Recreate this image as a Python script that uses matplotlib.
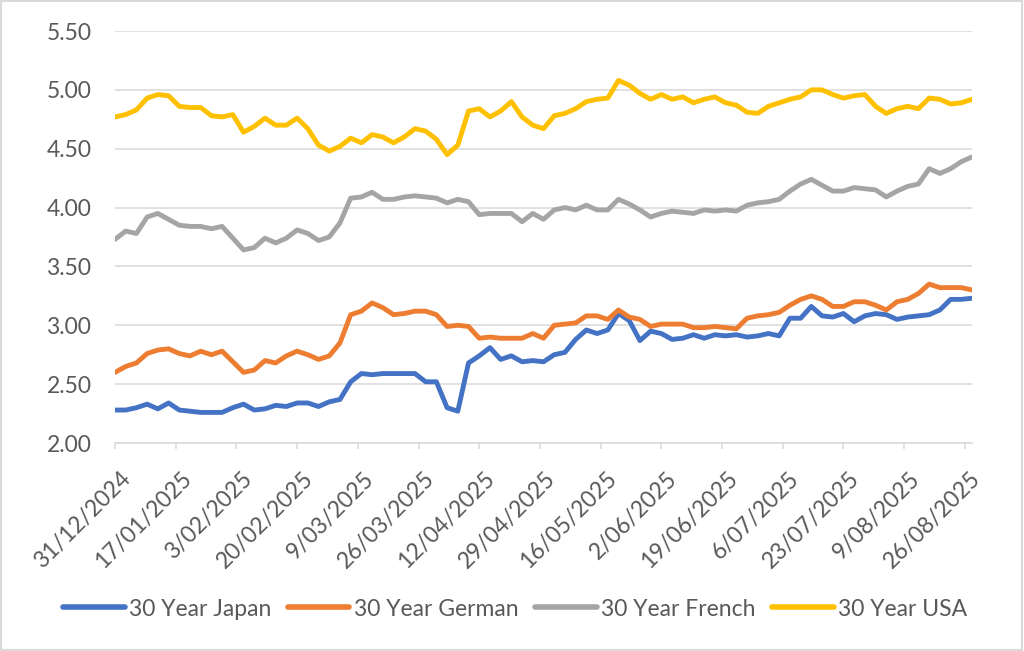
import numpy as np
import pandas as pd
import matplotlib
matplotlib.use('Agg')
import matplotlib.pyplot as plt
import matplotlib.dates as mdates
import matplotlib.transforms as mtransforms
from matplotlib.patches import Rectangle

plt.rcParams['font.family'] = ['Lato', 'DejaVu Sans']

# sampled every 3 days from 31/12/2024, last point 28/08/2025
dates = pd.date_range('2024-12-31', periods=80, freq='3D').append(pd.DatetimeIndex(['2025-08-28']))

japan = [2.28, 2.28, 2.30, 2.33, 2.29, 2.34, 2.28, 2.27, 2.26, 2.26, 2.26, 2.30, 2.33,
         2.28, 2.29, 2.32, 2.31, 2.34, 2.34, 2.31, 2.35, 2.37, 2.52, 2.59, 2.58, 2.59, 2.59,
         2.59, 2.59, 2.52, 2.52, 2.30, 2.27, 2.68, 2.74, 2.81, 2.71, 2.74, 2.69, 2.70, 2.69,
         2.75, 2.77, 2.88, 2.96, 2.93, 2.96, 3.10, 3.04, 2.87, 2.95, 2.93, 2.88, 2.89, 2.92,
         2.89, 2.92, 2.91, 2.92, 2.90, 2.91, 2.93, 2.91, 3.06, 3.06, 3.16, 3.08, 3.07, 3.10,
         3.03, 3.08, 3.10, 3.09, 3.05, 3.07, 3.08, 3.09, 3.13, 3.22, 3.22, 3.23]
german = [2.60, 2.65, 2.68, 2.76, 2.79, 2.80, 2.76, 2.74, 2.78, 2.75, 2.78, 2.69, 2.60,
          2.62, 2.70, 2.68, 2.74, 2.78, 2.75, 2.71, 2.74, 2.85, 3.09, 3.12, 3.19, 3.15, 3.09,
          3.10, 3.12, 3.12, 3.09, 2.99, 3.00, 2.99, 2.89, 2.90, 2.89, 2.89, 2.89, 2.93, 2.89,
          3.00, 3.01, 3.02, 3.08, 3.08, 3.05, 3.13, 3.07, 3.05, 2.99, 3.01, 3.01, 3.01, 2.98,
          2.98, 2.99, 2.98, 2.97, 3.06, 3.08, 3.09, 3.11, 3.17, 3.22, 3.25, 3.22, 3.16, 3.16,
          3.20, 3.20, 3.17, 3.13, 3.20, 3.22, 3.27, 3.35, 3.32, 3.32, 3.32, 3.30]
french = [3.73, 3.80, 3.78, 3.92, 3.95, 3.90, 3.85, 3.84, 3.84, 3.82, 3.84, 3.74, 3.64,
          3.66, 3.74, 3.70, 3.74, 3.81, 3.78, 3.72, 3.75, 3.87, 4.08, 4.09, 4.13, 4.07, 4.07,
          4.09, 4.10, 4.09, 4.08, 4.04, 4.07, 4.05, 3.94, 3.95, 3.95, 3.95, 3.88, 3.95, 3.90,
          3.98, 4.00, 3.98, 4.02, 3.98, 3.98, 4.07, 4.03, 3.98, 3.92, 3.95, 3.97, 3.96, 3.95,
          3.98, 3.97, 3.98, 3.97, 4.02, 4.04, 4.05, 4.07, 4.14, 4.20, 4.24, 4.19, 4.14, 4.14,
          4.17, 4.16, 4.15, 4.09, 4.14, 4.18, 4.20, 4.33, 4.29, 4.33, 4.39, 4.43]
usa = [4.77, 4.79, 4.83, 4.93, 4.96, 4.95, 4.86, 4.85, 4.85, 4.78, 4.77, 4.79, 4.64,
       4.69, 4.76, 4.70, 4.70, 4.76, 4.67, 4.53, 4.48, 4.52, 4.59, 4.55, 4.62, 4.60, 4.55,
       4.60, 4.67, 4.65, 4.58, 4.45, 4.53, 4.82, 4.84, 4.77, 4.82, 4.90, 4.77, 4.70, 4.67,
       4.78, 4.80, 4.84, 4.90, 4.92, 4.93, 5.08, 5.04, 4.97, 4.92, 4.96, 4.92, 4.94, 4.89,
       4.92, 4.94, 4.89, 4.87, 4.81, 4.80, 4.86, 4.89, 4.92, 4.94, 5.00, 5.00, 4.96, 4.93,
       4.95, 4.96, 4.86, 4.80, 4.84, 4.86, 4.84, 4.93, 4.92, 4.88, 4.89, 4.92]

labels = ['30 Year Japan', '30 Year German', '30 Year French', '30 Year USA']
colors = ['#4472C4', '#ED7D31', '#A5A5A5', '#FFC000']
x_ticks = pd.date_range('2024-12-31', '2025-08-26', freq='17D')

fig = plt.figure(figsize=(10.24, 6.51), dpi=100)
ax = fig.add_axes([115/1024, 1 - 443/651, 857/1024, 412/651])

for vals, lab, col in zip([japan, german, french, usa], labels, colors):
    ax.plot(dates, vals, color=col, lw=3.5, label=lab,
            solid_capstyle='round', solid_joinstyle='round')

ax.set_ylim(2.0, 5.5)
ax.set_yticks(np.arange(2.0, 5.51, 0.5))
ax.yaxis.set_major_formatter(plt.FormatStrFormatter('%.2f'))
ax.set_xlim(pd.Timestamp('2024-12-31'), pd.Timestamp('2025-08-28'))
ax.set_xticks(x_ticks)
ax.xaxis.set_major_formatter(plt.FuncFormatter(
    lambda v, p: '{d.day}/{d.month:02d}/{d.year}'.format(d=mdates.num2date(v))))

ax.grid(axis='y', color='#D9D9D9', lw=1.1)
ax.set_axisbelow(True)
for s in ['left', 'right', 'top']:
    ax.spines[s].set_visible(False)
ax.spines['bottom'].set_color('#D9D9D9')
ax.spines['bottom'].set_linewidth(1.1)
ax.tick_params(axis='y', length=0, pad=17, labelsize=16.5, labelcolor='#595959')
ax.tick_params(axis='x', length=4, width=1.1, color='#D9D9D9', pad=14,
               labelsize=16.5, labelcolor='#595959')
shift = mtransforms.ScaledTranslation(5/100, 0, fig.dpi_scale_trans)
for t in ax.get_xticklabels():
    t.set_rotation(45)
    t.set_ha('right')
    t.set_va('top')
    t.set_rotation_mode('anchor')
    t.set_transform(t.get_transform() + shift)

leg = fig.legend(loc='center', bbox_to_anchor=(515/1024, 1 - 609/651), ncol=4,
                 frameon=False, fontsize=16.5, handlelength=2.7, handletextpad=0.2,
                 columnspacing=0.7, labelcolor='#595959')
for h in leg.get_lines():
    h.set_linewidth(4)
    h.set_solid_capstyle('round')

fig.patches.append(Rectangle((0.001, 0.001), 0.997, 0.997, transform=fig.transFigure,
                             fill=False, edgecolor='#D9D9D9', lw=1.5))

fig.savefig('out.png', dpi=100)
